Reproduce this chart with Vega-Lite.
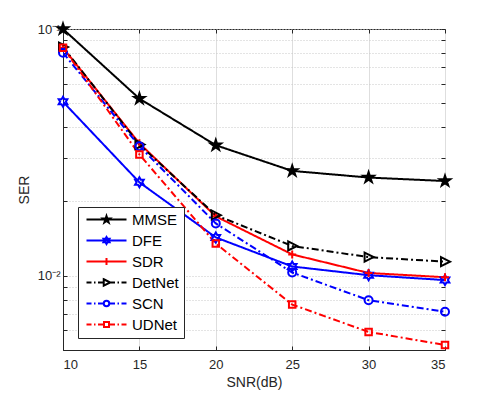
{
  "$schema": "https://vega.github.io/schema/vega-lite/v6.json",
  "autosize": {"type": "none"},
  "padding": {"left": 63, "top": 29, "right": 46, "bottom": 45},
  "width": 382,
  "height": 321,
  "background": "white",
  "config": {
    "font": "Liberation Sans",
    "view": {"stroke": "#262626", "strokeWidth": 1},
    "axis": {
      "labelFont": "Liberation Sans",
      "labelFontSize": 13,
      "labelColor": "#262626",
      "titleFont": "Liberation Sans",
      "titleFontSize": 14,
      "titleFontWeight": "normal",
      "titleColor": "#262626",
      "domainColor": "#262626",
      "tickColor": "#262626",
      "tickSize": -4,
      "gridColor": "#dedede",
      "gridWidth": 1,
      "labelOverlap": false
    },
    "legend": {
      "symbolOpacity": 1
    }
  },
  "data": {
    "values": [
      {"snr": 10, "ser": 0.1, "series": "MMSE"},
      {"snr": 15, "ser": 0.0522, "series": "MMSE"},
      {"snr": 20, "ser": 0.0338, "series": "MMSE"},
      {"snr": 25, "ser": 0.0266, "series": "MMSE"},
      {"snr": 30, "ser": 0.0250, "series": "MMSE"},
      {"snr": 35, "ser": 0.0242, "series": "MMSE"},
      {"snr": 10, "ser": 0.0507, "series": "DFE"},
      {"snr": 15, "ser": 0.0239, "series": "DFE"},
      {"snr": 20, "ser": 0.0143, "series": "DFE"},
      {"snr": 25, "ser": 0.0109, "series": "DFE"},
      {"snr": 30, "ser": 0.01005, "series": "DFE"},
      {"snr": 35, "ser": 0.0096, "series": "DFE"},
      {"snr": 10, "ser": 0.0839, "series": "SDR"},
      {"snr": 15, "ser": 0.0344, "series": "SDR"},
      {"snr": 20, "ser": 0.0174, "series": "SDR"},
      {"snr": 25, "ser": 0.0122, "series": "SDR"},
      {"snr": 30, "ser": 0.01026, "series": "SDR"},
      {"snr": 35, "ser": 0.00986, "series": "SDR"},
      {"snr": 10, "ser": 0.0845, "series": "DetNet"},
      {"snr": 15, "ser": 0.0340, "series": "DetNet"},
      {"snr": 20, "ser": 0.0176, "series": "DetNet"},
      {"snr": 25, "ser": 0.0132, "series": "DetNet"},
      {"snr": 30, "ser": 0.0119, "series": "DetNet"},
      {"snr": 35, "ser": 0.0114, "series": "DetNet"},
      {"snr": 10, "ser": 0.0801, "series": "SCN"},
      {"snr": 15, "ser": 0.0335, "series": "SCN"},
      {"snr": 20, "ser": 0.0163, "series": "SCN"},
      {"snr": 25, "ser": 0.0103, "series": "SCN"},
      {"snr": 30, "ser": 0.00796, "series": "SCN"},
      {"snr": 35, "ser": 0.00714, "series": "SCN"},
      {"snr": 10, "ser": 0.0839, "series": "UDNet"},
      {"snr": 15, "ser": 0.0310, "series": "UDNet"},
      {"snr": 20, "ser": 0.0135, "series": "UDNet"},
      {"snr": 25, "ser": 0.00764, "series": "UDNet"},
      {"snr": 30, "ser": 0.00592, "series": "UDNet"},
      {"snr": 35, "ser": 0.00524, "series": "UDNet"}
    ]
  },
  "resolve": {
    "scale": {"shape": "independent", "stroke": "independent", "fill": "independent", "strokeDash": "independent"},
    "axis": {"x": "independent", "y": "independent"}
  },
  "layer": [
    {
      "mark": {"type": "line", "strokeWidth": 2, "clip": true},
      "encoding": {
        "x": {"field": "snr", "type": "quantitative", "scale": {"domain": [10, 35], "nice": false},
          "axis": {"values": [10, 15, 20, 25, 30, 35], "title": "SNR(dB)", "labelPadding": 12, "titlePadding": 4, "grid": true}},
        "y": {"field": "ser", "type": "quantitative", "scale": {"type": "log", "domain": [0.005, 0.1], "nice": false},
          "axis": {"values": [0.005, 0.006, 0.007, 0.008, 0.009, 0.01, 0.02, 0.03, 0.04, 0.05, 0.06, 0.07, 0.08, 0.09, 0.1],
            "labelExpr": "abs(datum.value - 0.1) < 0.001 ? '10⁻¹' : (abs(datum.value - 0.01) < 0.0001 ? '10⁻²' : '')",
            "title": "SER", "labelPadding": 7, "titlePadding": 6, "grid": true, "gridDash": [1, 2], "gridColor": "#c8c8c8", "labelFlush": false, "labelBound": false}},
        "detail": {"field": "series"},
        "stroke": {"field": "series", "type": "nominal", "legend": null,
          "scale": {"domain": ["MMSE", "DFE", "SDR", "DetNet", "SCN", "UDNet"], "range": ["#000000", "#0000ff", "#ff0000", "#000000", "#0000ff", "#ff0000"]}},
        "strokeDash": {"field": "series", "type": "nominal", "legend": null,
          "scale": {"domain": ["MMSE", "DFE", "SDR", "DetNet", "SCN", "UDNet"], "range": [[1, 0], [1, 0], [1, 0], [7, 3, 2, 3], [7, 3, 2, 3], [7, 3, 2, 3]]}}
      }
    },
    {
      "mark": {"type": "point", "size": 100, "strokeWidth": 2, "opacity": 1},
      "encoding": {
        "x": {"field": "snr", "type": "quantitative", "axis": null},
        "y": {"field": "ser", "type": "quantitative", "axis": null},
        "stroke": {"field": "series", "type": "nominal", "legend": null,
          "scale": {"domain": ["MMSE", "DFE", "SDR", "DetNet", "SCN", "UDNet"], "range": ["#000000", "#0000ff", "#ff0000", "#000000", "#0000ff", "#ff0000"]}},
        "fill": {"field": "series", "type": "nominal", "legend": null,
          "scale": {"domain": ["MMSE", "DFE", "SDR", "DetNet", "SCN", "UDNet"], "range": ["#000000", "transparent", "transparent", "transparent", "transparent", "transparent"]}},
        "shape": {"field": "series", "type": "nominal", "legend": null,
          "scale": {"domain": ["MMSE", "DFE", "SDR", "DetNet", "SCN", "UDNet"], "range": [
            "M0,-1.1L0.247,-0.34L1.046,-0.34L0.4,0.13L0.647,0.89L0,0.42L-0.647,0.89L-0.4,0.13L-1.046,-0.34L-0.247,-0.34Z",
            "M0,-1L0.289,-0.5L0.866,-0.5L0.577,0L0.866,0.5L0.289,0.5L0,1L-0.289,0.5L-0.866,0.5L-0.577,0L-0.866,-0.5L-0.289,-0.5Z",
            "M-0.8,0H0.8M0,-0.8V0.8",
            "M-0.8,-0.9L1,0L-0.8,0.9Z",
            "M-0.8,0A0.8,0.8,0,1,1,0.8,0A0.8,0.8,0,1,1,-0.8,0Z",
            "M-0.65,-0.65H0.65V0.65H-0.65Z"
          ]}}
      }
    },
    {
      "mark": {"type": "point", "size": 100, "strokeWidth": 2, "opacity": 0},
      "encoding": {
        "x": {"field": "snr", "type": "quantitative",
          "axis": {"orient": "top", "values": [10, 15, 20, 25, 30, 35], "labels": false, "grid": false, "domain": false, "title": null}},
        "y": {"field": "ser", "type": "quantitative",
          "axis": {"orient": "right", "values": [0.005, 0.006, 0.007, 0.008, 0.009, 0.01, 0.02, 0.03, 0.04, 0.05, 0.06, 0.07, 0.08, 0.09, 0.1], "labels": false, "grid": false, "domain": false, "title": null}},
        "stroke": {"field": "series", "type": "nominal",
          "scale": {"domain": ["MMSE", "DFE", "SDR", "DetNet", "SCN", "UDNet"], "range": ["#000000", "#0000ff", "#ff0000", "#000000", "#0000ff", "#ff0000"]},
          "legend": {"orient": "none", "legendX": 15, "legendY": 178, "title": null, "fillColor": "white", "strokeColor": "#262626", "padding": 5,
            "labelFont": "Liberation Sans", "labelFontSize": 15, "labelColor": "#000000", "symbolSize": 100, "symbolStrokeWidth": 2,
            "symbolOffset": 16, "labelOffset": 18, "rowPadding": 5, "symbolOpacity": 1}},
        "fill": {"field": "series", "type": "nominal",
          "scale": {"domain": ["MMSE", "DFE", "SDR", "DetNet", "SCN", "UDNet"], "range": ["#000000", "transparent", "transparent", "transparent", "transparent", "transparent"]},
          "legend": {"orient": "none", "legendX": 15, "legendY": 178, "title": null, "fillColor": "white", "strokeColor": "#262626", "padding": 5,
            "labelFont": "Liberation Sans", "labelFontSize": 15, "labelColor": "#000000", "symbolSize": 100, "symbolStrokeWidth": 2,
            "symbolOffset": 16, "labelOffset": 18, "rowPadding": 5, "symbolOpacity": 1}},
        "shape": {"field": "series", "type": "nominal",
          "scale": {"domain": ["MMSE", "DFE", "SDR", "DetNet", "SCN", "UDNet"], "range": [
            "M-4,0H4M0,-0.7L0.157,-0.216L0.666,-0.216L0.254,0.083L0.412,0.566L0,0.267L-0.412,0.566L-0.254,0.083L-0.666,-0.216L-0.157,-0.216Z",
            "M-4,0H4M0,-0.7L0.202,-0.35L0.606,-0.35L0.404,0L0.606,0.35L0.202,0.35L0,0.7L-0.202,0.35L-0.606,0.35L-0.404,0L-0.606,-0.35L-0.202,-0.35Z",
            "M-4,0H4M0,-0.7V0.7",
            "M-4,0H-3M-2.5,0H-2.2M-1.7,0H-0.55M0.75,0H1.7M2.2,0H2.5M3,0H4M-0.55,-0.65L0.75,0L-0.55,0.65Z",
            "M-4,0H-3M-2.5,0H-2.2M-1.7,0H-0.55M0.55,0H1.7M2.2,0H2.5M3,0H4M-0.55,0A0.55,0.55,0,1,1,0.55,0A0.55,0.55,0,1,1,-0.55,0Z",
            "M-4,0H-3M-2.5,0H-2.2M-1.7,0H-0.5M0.5,0H1.7M2.2,0H2.5M3,0H4M-0.5,-0.5H0.5V0.5H-0.5Z"
          ]},
          "legend": {"orient": "none", "legendX": 15, "legendY": 178, "title": null, "fillColor": "white", "strokeColor": "#262626", "padding": 5,
            "labelFont": "Liberation Sans", "labelFontSize": 15, "labelColor": "#000000", "symbolSize": 100, "symbolStrokeWidth": 2,
            "symbolOffset": 16, "labelOffset": 18, "rowPadding": 5, "symbolOpacity": 1}}
      }
    }
  ]
}
